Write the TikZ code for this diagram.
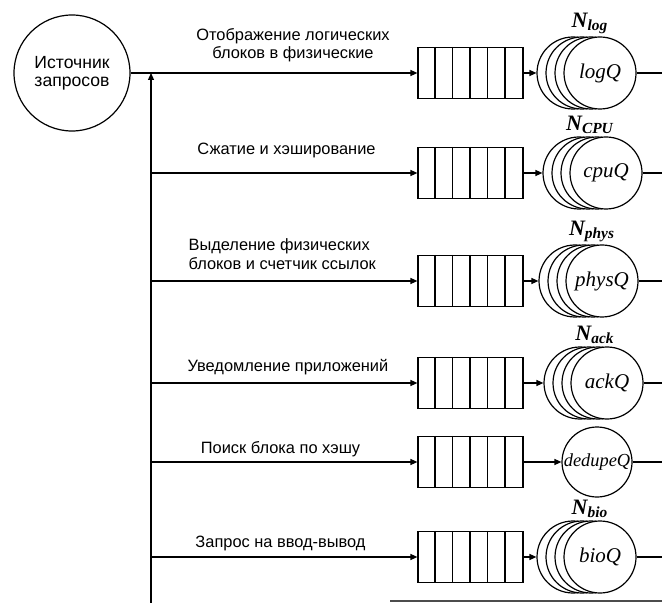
\documentclass[tikz,border=0pt]{standalone}
\usepackage{fontspec}
\setmainfont{Liberation Sans}
\newfontfamily\tnr{Liberation Serif}
\usetikzlibrary{arrows.meta,positioning}

\tikzset{
  conn/.style={-{Triangle[length=3.5pt,width=3pt]}},
  queuebox/.style={draw, minimum width=52.5pt, minimum height=25.5pt, inner sep=0pt},
  server/.style={draw, fill=white, circle, minimum size=36pt, inner sep=0pt,
    font=\tnr\itshape\fontsize{10.5}{12}\selectfont},
  nlabel/.style={font=\tnr\bfseries\itshape\fontsize{11}{12}\selectfont, inner sep=1pt},
  oplabel/.style={inner sep=1pt}
}

\begin{document}
\begin{tikzpicture}[x=0.5pt, y=-0.5pt, line width=0.6pt,
    font=\fontsize{8.2}{9.3}\selectfont]
    \useasboundingbox (0,0) rectangle (662,603);

    % Source of requests and the common trunk
    \node[draw, circle, minimum size=58pt, align=center,
      font=\fontsize{8.8}{9.2}\selectfont] (src) at (72,73) {Источник\\запросов};
    \coordinate (bot) at (151,603);

    % Queues (six cells each)
    \foreach \i/\y in {1/73, 2/173, 3/281, 4/383, 5/462, 6/557} {
        \node[queuebox] (q\i) at (470.5,\y) {};
        \foreach \k in {1,...,5}
            \draw ([xshift=\k*8.75pt]q\i.north west) -- ([xshift=\k*8.75pt]q\i.south west);
    }

    % Server pools: three circles behind the front one
    \foreach \i/\x/\y/\q in {1/600/73/logQ, 2/606/173/cpuQ, 3/602/281/physQ, 4/607/383/ackQ, 6/600/557/bioQ} {
        \foreach \d in {27,18,9}
            \node[server] (s\i-\d) at (\x-\d,\y) {};
        \node[server] (s\i) at (\x,\y) {\q};
        \coordinate (o\i) at (662,\y);
        \draw[conn] (q\i.east) -- (s\i-27.west);
        \draw (s\i.east) -- (o\i);
    }
    \node[server, minimum size=35pt, font=\tnr\itshape\fontsize{9.2}{11}\selectfont] (s5) at (597,462) {dedupeQ};
    \coordinate (o5) at (662,462);
    \draw[conn] (q5.east) -- (s5.west);
    \draw (s5.east) -- (o5);

    % Pool sizes
    \node[nlabel, above=0pt of s1, xshift=-5pt] {N\textsubscript{log}};
    \node[nlabel, above=0pt of s2, xshift=-8pt] {N\textsubscript{CPU}};
    \node[nlabel, above=0pt of s3, xshift=-5pt] {N\textsubscript{phys}};
    \node[nlabel, above=0pt of s4, xshift=-6pt] {N\textsubscript{ack}};
    \node[nlabel, above=0pt of s6, xshift=-5pt] {N\textsubscript{bio}};

    % Request flow
    \draw[conn] (src.east) -- (q1.west);
    \draw[conn] (bot) -- (bot |- src.east);
    \foreach \i in {2,...,6}
        \draw[conn] (bot |- q\i.west) -- (q\i.west);

    % Stage names
    \node[oplabel, align=center, anchor=south] (t1) at (293,65) {Отображение логических\\блоков в физические};
    \node[oplabel] (t2) at (286.5,150) {Сжатие и хэширование};
    \node[oplabel, align=left, anchor=south west] (t3) at (186,272) {Выделение физических\\блоков и счетчик ссылок};
    \node[oplabel] (t4) at (288,367) {Уведомление приложений};
    \node[oplabel] (t5) at (280.5,449) {Поиск блока по хэшу};
    \node[oplabel] (t6) at (280.5,543) {Запрос на ввод-вывод};

    % Edge at the bottom
    \coordinate (e1) at (390,601);
    \coordinate (e2) at (662,601);
    \draw[line width=0.9pt, black!70] (e1) -- (e2);
\end{tikzpicture}
\end{document}
